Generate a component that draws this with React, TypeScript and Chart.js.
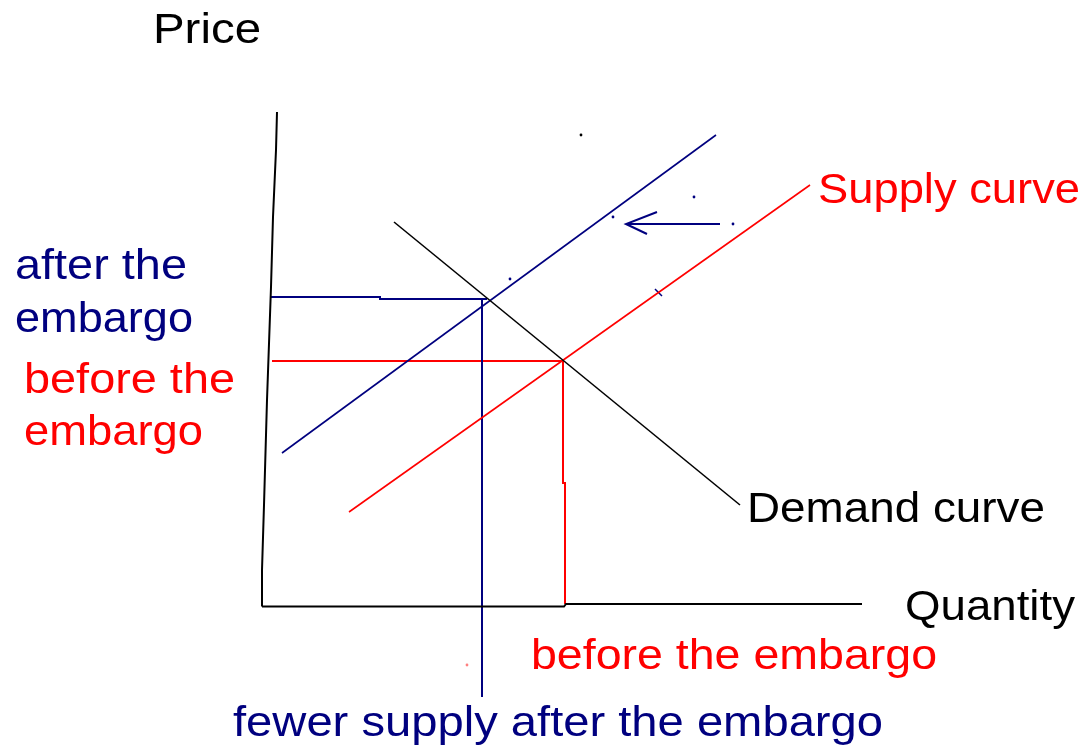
import React, { useEffect, useRef } from "react";
import { Chart, registerables } from "chart.js";

Chart.register(...registerables);

type Pt = { x: number; y: number };
const P = (x: number, y: number): Pt => ({ x, y });

// Units: x = quantity, y = price (origin at the axes' corner)
const priceAxis: Pt[] = [P(1.5, 49.3), P(1.4, 45.5), P(1.1, 38.8), P(0.9, 31.8), P(0.5, 20.5), P(0.2, 10.0), P(0, 3.5), P(0, -0.15)];
const quantityAxis: Pt[] = [P(0, -0.15), P(30.2, -0.15), P(30.4, 0.1), P(60.0, 0.1)];

const demandCurve: Pt[] = [P(13.2, 38.3), P(47.8, 10.0)];
const supplyBefore: Pt[] = [P(8.7, 9.3), P(54.8, 42.0)];
const supplyAfter: Pt[] = [P(2.0, 15.2), P(45.4, 47.0)];

const priceBeforeGuide: Pt[] = [P(1.0, 24.4), P(30.1, 24.4)];
const quantityBeforeGuide: Pt[] = [P(30.1, 24.4), P(30.1, 12.2), P(30.3, 12.2), P(30.3, 0.1)];
const priceAfterGuide: Pt[] = [P(0.9, 30.8), P(11.8, 30.8), P(11.8, 30.6), P(22.5, 30.6)];
const quantityAfterGuide: Pt[] = [P(22.0, 30.6), P(22.0, -9.2)];

const shiftArrowShaft: Pt[] = [P(36.4, 38.1), P(45.8, 38.1)];
const shiftArrowHead: Pt[] = [P(39.5, 39.3), P(36.4, 38.1), P(38.5, 37.1)];
const supplyTick: Pt[] = [P(39.3, 31.6), P(40.0, 30.9)];

const strayDotsNavy: Pt[] = [P(47.1, 38.1), P(43.2, 40.8), P(35.1, 38.8), P(24.8, 32.6)];
const strayDotsBlack: Pt[] = [P(31.9, 47.0)];
const strayDotsRed: Pt[] = [P(20.5, -6.0)];

// Text labels: left / right edge in quantity units, baseline in price units
const labelTexts = [
  "Price",
  "Supply curve",
  "Demand curve",
  "Quantity",
  "after the",
  "embargo",
  "before the",
  "embargo",
  "before the embargo",
  "fewer supply after the embargo",
];
const labelLeft = [-10.9, 55.6, 48.5, 64.3, -24.7, -24.7, -23.8, -23.8, 26.9, -2.9];
const labelRight = [-0.1, 81.8, 78.3, 81.3, -7.5, -6.9, -2.7, -5.9, 67.5, 62.1];
const labelBaseline = [56.2, 40.2, 8.3, -1.5, 32.6, 27.3, 21.2, 16.0, -6.4, -13.1];

const NAVY = "#00007f";
const RED = "#ff0000";
const BLACK = "#000000";
const labelColors = [BLACK, RED, BLACK, BLACK, NAVY, NAVY, RED, RED, RED, NAVY];

const X_MIN = -26.2;
const X_MAX = 82.6;
const Y_MIN = -14.4;
const Y_MAX = 60.5;

const labelPlugin = {
  id: "labels",
  afterDatasetsDraw(chart: any) {
    const ctx = chart.ctx as CanvasRenderingContext2D;
    const xs = chart.scales.x;
    const ys = chart.scales.y;
    ctx.save();
    ctx.font = "43px 'Liberation Sans', Arial, sans-serif";
    ctx.textBaseline = "alphabetic";
    ctx.textAlign = "left";
    labelTexts.forEach((t, i) => {
      const xl = xs.getPixelForValue(labelLeft[i]);
      const xr = xs.getPixelForValue(labelRight[i]);
      const yb = ys.getPixelForValue(labelBaseline[i]);
      const w = ctx.measureText(t).width;
      ctx.save();
      ctx.translate(xl, yb);
      ctx.scale((xr - xl) / w, 1);
      ctx.fillStyle = labelColors[i];
      ctx.fillText(t, 0, 0);
      ctx.restore();
    });
    ctx.restore();
  },
};

function line(data: Pt[], color: string, width: number) {
  return {
    data,
    showLine: true,
    borderColor: color,
    backgroundColor: color,
    borderWidth: width,
    pointRadius: 0,
    pointHoverRadius: 0,
    fill: false,
    tension: 0,
  };
}

function dots(data: Pt[], color: string) {
  return {
    data,
    showLine: false,
    borderColor: color,
    backgroundColor: color,
    pointRadius: 1.4,
    pointHoverRadius: 0,
    pointBorderWidth: 0,
  };
}

export default function App() {
  const ref = useRef<HTMLCanvasElement | null>(null);
  useEffect(() => {
    if (!ref.current) return;
    const chart = new Chart(ref.current, {
      type: "scatter",
      data: {
        datasets: [
          line(priceAxis, BLACK, 2),
          line(quantityAxis, BLACK, 2),
          line(demandCurve, BLACK, 1.6),
          line(supplyAfter, NAVY, 1.6),
          line(supplyBefore, RED, 1.6),
          line(priceAfterGuide, NAVY, 2),
          line(quantityAfterGuide, NAVY, 2),
          line(priceBeforeGuide, RED, 2),
          line(quantityBeforeGuide, RED, 2),
          line(shiftArrowShaft, NAVY, 2),
          line(shiftArrowHead, NAVY, 2),
          line(supplyTick, NAVY, 1.5),
          dots(strayDotsNavy, NAVY),
          dots(strayDotsBlack, BLACK),
          dots(strayDotsRed, "#ff8080"),
        ] as any,
      },
      options: {
        animation: false,
        responsive: false,
        events: [],
        layout: { padding: 0, autoPadding: false },
        plugins: { legend: { display: false }, tooltip: { enabled: false } },
        scales: {
          x: { type: "linear", min: X_MIN, max: X_MAX, display: false },
          y: { type: "linear", min: Y_MIN, max: Y_MAX, display: false },
        },
      },
      plugins: [labelPlugin],
    });
    return () => chart.destroy();
  }, []);

  return (
    <div style={{ position: "fixed", left: 0, top: 0, width: 1088, height: 749, background: "#fff" }}>
      <canvas ref={ref} width={1088} height={749} style={{ display: "block" }} />
    </div>
  );
}
